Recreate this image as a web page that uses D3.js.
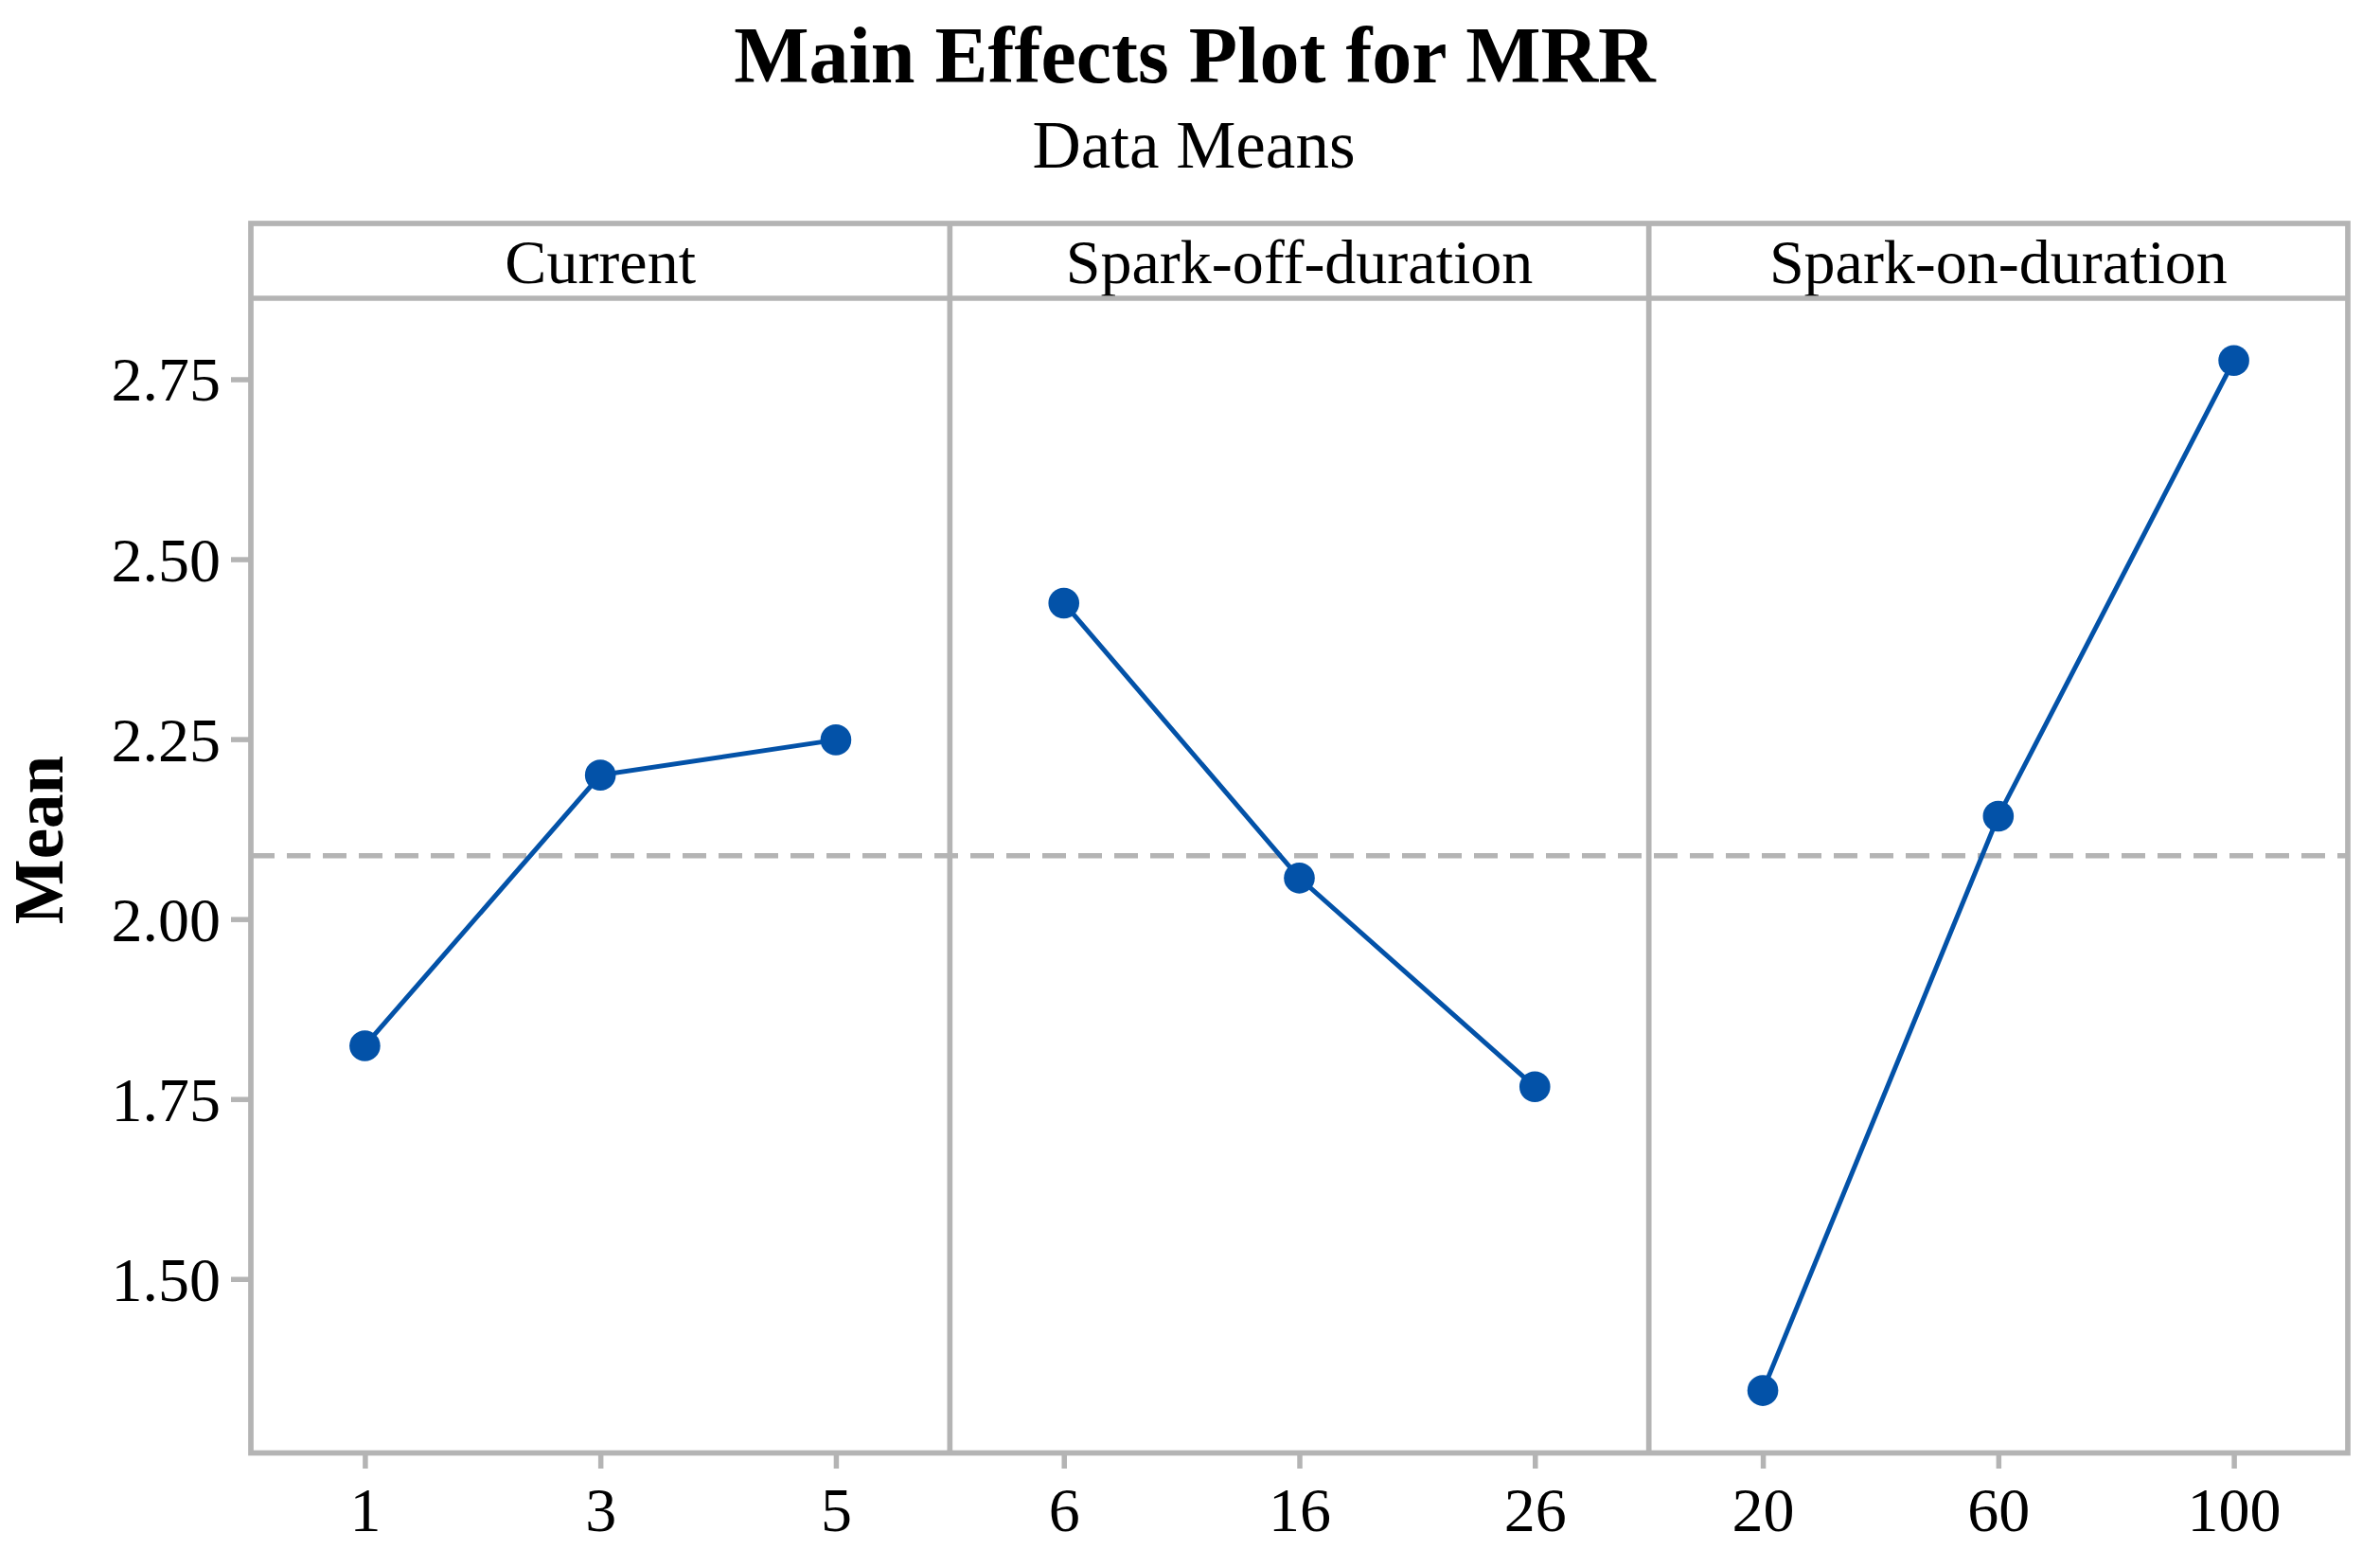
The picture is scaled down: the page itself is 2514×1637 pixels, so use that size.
<!DOCTYPE html>
<html>
<head>
<meta charset="utf-8">
<script src="https://cdn.jsdelivr.net/npm/d3@7"></script>
<style>
  html, body { margin: 0; padding: 0; background: #fff; }
  svg { display: block; }
  text { font-family: "Liberation Serif", "Times New Roman", serif; fill: #000; }
</style>
</head>
<body>
<script>
// ---------- data ----------
const factors = ["Current", "Spark-off-duration", "Spark-on-duration"];
const currentLevels = ["1", "3", "5"];
const currentMeans = [1.824, 2.200, 2.249];
const sparkOffLevels = ["6", "16", "26"];
const sparkOffMeans = [2.439, 2.057, 1.767];
const sparkOnLevels = ["20", "60", "100"];
const sparkOnMeans = [1.345, 2.143, 2.776];
const grandMean = 2.088;
const yTicks = [1.50, 1.75, 2.00, 2.25, 2.50, 2.75];
const titleText = "Main Effects Plot for MRR";
const subtitleText = "Data Means";
const yLabel = "Mean";

const panelsData = [
  { name: factors[0], levels: currentLevels, means: currentMeans },
  { name: factors[1], levels: sparkOffLevels, means: sparkOffMeans },
  { name: factors[2], levels: sparkOnLevels, means: sparkOnMeans }
];

// ---------- layout ----------
const W = 2514, H = 1637;
const pLeft = 265, pRight = 2480, pTop = 236, stripBottom = 315, pBottom = 1534.5;
const frameColor = "#b4b4b4";
const blue = "#0352a8";
const panelW = (pRight - pLeft) / panelsData.length;

const svg = d3.select("body").append("svg").attr("width", W).attr("height", H);

const y = d3.scaleLinear().domain([1.2583, 2.8625]).range([pBottom, stripBottom]);

// title
svg.append("text").attr("x", 1262).attr("y", 87).attr("text-anchor", "middle")
  .attr("font-size", 84).attr("font-weight", "bold").text(titleText);
svg.append("text").attr("x", 1261).attr("y", 177).attr("text-anchor", "middle")
  .attr("font-size", 71).text(subtitleText);

// y label
svg.append("text").attr("transform", "translate(66,887) rotate(-90)")
  .attr("text-anchor", "middle").attr("font-size", 73).attr("font-weight", "bold").text(yLabel);

// reference dashed line
svg.append("line").attr("x1", pLeft).attr("x2", pRight)
  .attr("y1", y(grandMean)).attr("y2", y(grandMean))
  .attr("stroke", frameColor).attr("stroke-width", 5.7).attr("stroke-dasharray", "25,13");

// y axis
const yAxis = d3.axisLeft(y).tickValues(yTicks).tickFormat(d3.format(".2f")).tickSize(21).tickPadding(11);
const gy = svg.append("g").attr("transform", `translate(${pLeft},0)`).call(yAxis);
gy.select(".domain").remove();
gy.selectAll(".tick line").attr("stroke", frameColor).attr("stroke-width", 5.5);
gy.selectAll(".tick text").attr("font-size", 66).attr("font-family", '"Liberation Serif", serif').attr("dy", "0.34em");

panelsData.forEach((p, i) => {
  const x0 = pLeft + i * panelW, x1 = x0 + panelW;
  const x = d3.scalePoint().domain(p.levels).range([x0, x1]).padding(0.484);

  // strip label
  svg.append("text").attr("x", (x0 + x1) / 2).attr("y", 299).attr("text-anchor", "middle")
    .attr("font-size", 66).text(p.name);

  // x axis
  const xAxis = d3.axisBottom(x).tickSize(16.5);
  const gx = svg.append("g").attr("transform", `translate(0,${pBottom})`).call(xAxis);
  gx.select(".domain").remove();
  gx.selectAll(".tick line").attr("stroke", frameColor).attr("stroke-width", 5.5);
  gx.selectAll(".tick text").attr("font-size", 66).attr("font-family", '"Liberation Serif", serif')
    .attr("y", 1617 - pBottom).attr("dy", 0);

  const pts = p.levels.map((l, j) => [x(l), y(p.means[j])]);
  svg.append("path").attr("d", d3.line()(pts)).attr("fill", "none")
    .attr("stroke", blue).attr("stroke-width", 5);
  svg.selectAll(null).data(pts).enter().append("circle")
    .attr("cx", d => d[0]).attr("cy", d => d[1]).attr("r", 16.3).attr("fill", blue);

  if (i > 0) {
    svg.append("line").attr("x1", x0).attr("x2", x0).attr("y1", pTop).attr("y2", pBottom)
      .attr("stroke", frameColor).attr("stroke-width", 5.7);
  }
});

// frame
svg.append("rect").attr("x", pLeft).attr("y", pTop).attr("width", pRight - pLeft).attr("height", pBottom - pTop)
  .attr("fill", "none").attr("stroke", frameColor).attr("stroke-width", 5.7);
svg.append("line").attr("x1", pLeft).attr("x2", pRight).attr("y1", stripBottom).attr("y2", stripBottom)
  .attr("stroke", frameColor).attr("stroke-width", 5.7);
</script>
</body>
</html>
